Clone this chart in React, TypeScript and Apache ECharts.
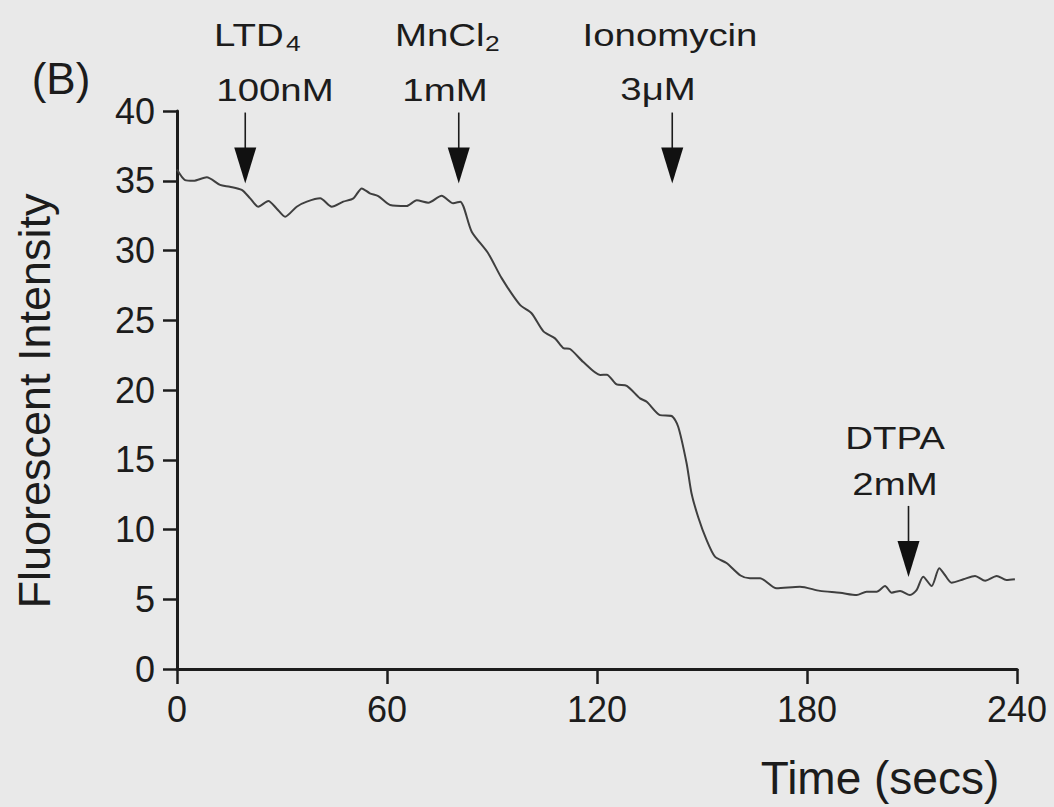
import React, { useEffect, useRef } from "react";
import * as echarts from "echarts";

// ---- data ----
const timeSecs = [
  0, 2.3, 4.7, 8.5, 12.3, 15.1, 18.5, 20.9, 23.2, 26.1, 28.5, 30.9, 34.2, 37.1, 40.9, 44.2, 47.5, 50.4,
  52.8, 55.1, 57.5, 60.9, 65.6, 68.5, 71.8, 75.6, 78.9, 80.9, 84.2, 88.9, 92.8, 98, 101.3, 104.7, 108,
  110.4, 112.3, 116.1, 120.9, 122.8, 125.6, 128.5, 132.3, 134.2, 138, 141.3, 143.2, 145.6, 147, 148.9,
  151.3, 153.7, 157, 161, 163.7, 166.6, 171.3, 178, 183.7, 189.4, 194.2, 197, 199.9, 202.3, 204.2,
  206.6, 209.4, 211.3, 213.2, 215.6, 217.8, 219.4, 221.3, 224.7, 228, 230.9, 234.2, 237, 239.4,
];
const intensity = [
  35.8, 35.05, 35.0, 35.25, 34.7, 34.57, 34.34, 33.74, 33.14, 33.55, 33.0, 32.42, 33.14, 33.5, 33.74,
  33.14, 33.5, 33.74, 34.45, 34.1, 33.9, 33.26, 33.19, 33.6, 33.43, 33.93, 33.38, 33.5, 31.35, 29.8,
  28.0, 26.1, 25.5, 24.2, 23.7, 23.0, 22.94, 22.0, 21.08, 21.1, 20.4, 20.3, 19.4, 19.16, 18.2, 18.14,
  17.37, 14.75, 12.6, 10.9, 9.25, 8.05, 7.6, 6.7, 6.5, 6.5, 5.78, 5.9, 5.6, 5.47, 5.3, 5.54, 5.54, 5.95,
  5.47, 5.6, 5.3, 5.66, 6.62, 5.95, 7.22, 6.74, 6.19, 6.43, 6.67, 6.33, 6.67, 6.38, 6.43,
];
const xMin = 0;
const xMax = 240;
const xInterval = 60;
const yMin = 0;
const yMax = 40;
const yInterval = 5;

// addition arrows: time of addition and the value where the arrow tip sits
const arrowTimes = [19.5, 80.5, 141.5, 209];
const arrowTipValues = [34.8, 34.8, 34.8, 6.6];
const drugNames = ["LTD", "MnCl", "Ionomycin", "DTPA"];
const drugSubs = ["4", "2", "", ""];
const drugDoses = ["100nM", "1mM", "3\u03BCM", "2mM"];

const panelLabel = "(B)";
const yTitle = "Fluorescent Intensity";
const xTitle = "Time (secs)";

// ---- layout (pixels) ----
const FONT = "'Liberation Sans', Arial, Helvetica, sans-serif";
const INK = "#1c1c1c";
const nameLayout = [
  { x: 214, y: 35, align: "left", subX: 286, subY: 43 },
  { x: 395, y: 35, align: "left", subX: 485, subY: 43 },
  { x: 670, y: 35, align: "center", subX: 0, subY: 0 },
  { x: 895, y: 438, align: "center", subX: 0, subY: 0 },
];
const doseLayout = [
  { x: 275, y: 90 },
  { x: 445, y: 90 },
  { x: 658, y: 89 },
  { x: 895, y: 484 },
];

export default function App() {
  const ref = useRef<HTMLDivElement>(null);

  useEffect(() => {
    if (!ref.current) return;
    const chart = echarts.init(ref.current, undefined, { renderer: "svg" });

    const graphics: any[] = [];
    graphics.push({
      type: "text",
      x: 61,
      y: 78,
      style: { text: panelLabel, font: `44px ${FONT}`, fill: INK, align: "center", verticalAlign: "middle" },
    });
    graphics.push({
      type: "text",
      x: 34,
      y: 401,
      rotation: Math.PI / 2,
      style: { text: yTitle, font: `45px ${FONT}`, fill: INK, align: "center", verticalAlign: "middle" },
    });
    graphics.push({
      type: "text",
      x: 880,
      y: 778,
      style: { text: xTitle, font: `46px ${FONT}`, fill: INK, align: "center", verticalAlign: "middle" },
    });
    drugNames.forEach((name, i) => {
      const L = nameLayout[i];
      graphics.push({
        type: "text",
        x: L.x,
        y: L.y,
        scaleX: 1.2,
        style: { text: name, font: `32px ${FONT}`, fill: INK, align: L.align, verticalAlign: "middle" },
      });
      if (drugSubs[i]) {
        graphics.push({
          type: "text",
          x: L.subX,
          y: L.subY,
          scaleX: 1.2,
          style: { text: drugSubs[i], font: `22px ${FONT}`, fill: INK, align: "left", verticalAlign: "middle" },
        });
      }
      const D = doseLayout[i];
      graphics.push({
        type: "text",
        x: D.x,
        y: D.y,
        scaleX: 1.2,
        style: { text: drugDoses[i], font: `32px ${FONT}`, fill: INK, align: "center", verticalAlign: "middle" },
      });
    });

    const option: any = {
      animation: false,
      backgroundColor: "#e9e9e9",
      grid: { left: 177, right: 37, top: 111, bottom: 138, containLabel: false },
      xAxis: {
        type: "value",
        min: xMin,
        max: xMax,
        interval: xInterval,
        splitLine: { show: false },
        axisLine: { show: true, onZero: false, lineStyle: { color: INK, width: 3 } },
        axisTick: { show: true, inside: false, length: 15, lineStyle: { color: INK, width: 2.5 } },
        axisLabel: { fontSize: 36, fontFamily: FONT, color: INK, margin: 22 },
      },
      yAxis: {
        type: "value",
        min: yMin,
        max: yMax,
        interval: yInterval,
        splitLine: { show: false },
        axisLine: { show: true, lineStyle: { color: INK, width: 3 } },
        axisTick: { show: true, inside: false, length: 14, lineStyle: { color: INK, width: 2.5 } },
        axisLabel: { fontSize: 36, fontFamily: FONT, color: INK, margin: 22 },
      },
      series: [
        {
          type: "line",
          data: timeSecs.map((t, i) => [t, intensity[i]]),
          showSymbol: false,
          smooth: 0.25,
          lineStyle: { color: "#3f3f3f", width: 2 },
          silent: true,
        },
        {
          type: "custom",
          silent: true,
          z: 5,
          data: arrowTimes.map((t, i) => [t, arrowTipValues[i]]),
          renderItem: (_params: any, api: any) => {
            const p = api.coord([api.value(0), api.value(1)]);
            const x = p[0];
            const y = p[1];
            return {
              type: "group",
              children: [
                {
                  type: "line",
                  shape: { x1: x, y1: y - 71, x2: x, y2: y - 34 },
                  style: { stroke: INK, lineWidth: 1.6 },
                },
                {
                  type: "polygon",
                  shape: { points: [[x - 11, y - 36], [x + 11, y - 36], [x, y]] },
                  style: { fill: "#111" },
                },
              ],
            };
          },
        },
      ],
      graphic: graphics,
    };

    chart.setOption(option);
    return () => chart.dispose();
  }, []);

  return (
    <div
      ref={ref}
      style={{ position: "fixed", left: 0, top: 0, width: 1054, height: 807 }}
    />
  );
}
